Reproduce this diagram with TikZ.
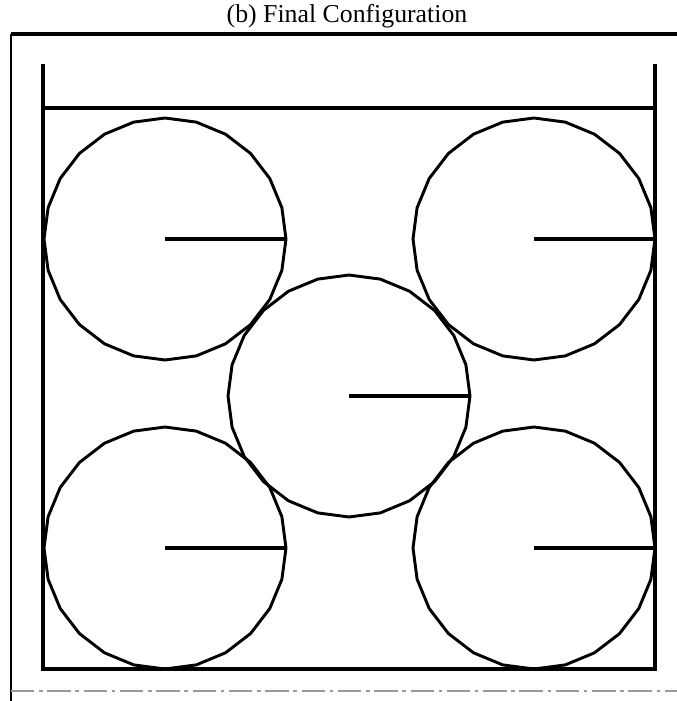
\documentclass[tikz,border=0pt]{standalone}
\usepackage{fontspec}
\setmainfont{Liberation Serif}
\usetikzlibrary{calc}

\newcommand{\rad}{121}
% polygonal disk with a radius marker
\newcommand{\granule}[1]{%
  \draw[disk] ($(#1)+(0:\rad)$)
    \foreach \a in {15,30,...,345} { -- ($(#1)+(\a:\rad)$) } -- cycle;
  \draw[spoke] (#1) -- ($(#1)+(0:\rad)$);
}

\begin{document}
\begin{tikzpicture}[
    x=0.03cm, y=-0.03cm,
    wall/.style={line width=2.6pt, black},
    frame/.style={line width=2.6pt, black},
    sideframe/.style={line width=1.6pt, black},
    scanline/.style={line width=1pt, black!40, dash pattern=on 20pt off 4pt on 3pt off 4pt},
    disk/.style={line width=2.5pt, black, line join=round},
    spoke/.style={line width=2.6pt, black},
    title/.style={font=\fontsize{22}{26}\selectfont, inner sep=0pt}
]
\useasboundingbox (0,0) rectangle (677,701);

% ── Title ──
\node[title] (ttl) at (347,16) {(b) Final Configuration};

% ── Outer frame ──
\coordinate (ftl) at (11,34);
\coordinate (ftr) at (677,34);
\coordinate (fbl) at (11,701);
\coordinate (dl)  at (11,691);
\coordinate (dr)  at (677,691);
\draw[frame] (ftl) -- (ftr);
\draw[sideframe] (fbl) -- (ftl);
\draw[scanline] (dl) -- (dr);

% ── Container ──
\coordinate (lw) at (43,64);
\coordinate (rw) at (655,64);
\coordinate (lid l) at (43,108);
\coordinate (lid r) at (655,108);
\coordinate (bl) at (43,669);
\coordinate (br) at (655,669);
\draw[wall] (lw) -- (bl) -- (br) -- (rw);
\draw[wall] (lid l) -- (lid r);

% ── Disks ──
\coordinate (tl) at (165,239);
\coordinate (tr) at (534,239);
\coordinate (mid) at (349,396);
\coordinate (dbl) at (165,548);
\coordinate (dbr) at (534,548);

\granule{tl}
\granule{tr}
\granule{mid}
\granule{dbl}
\granule{dbr}

\end{tikzpicture}
\end{document}
